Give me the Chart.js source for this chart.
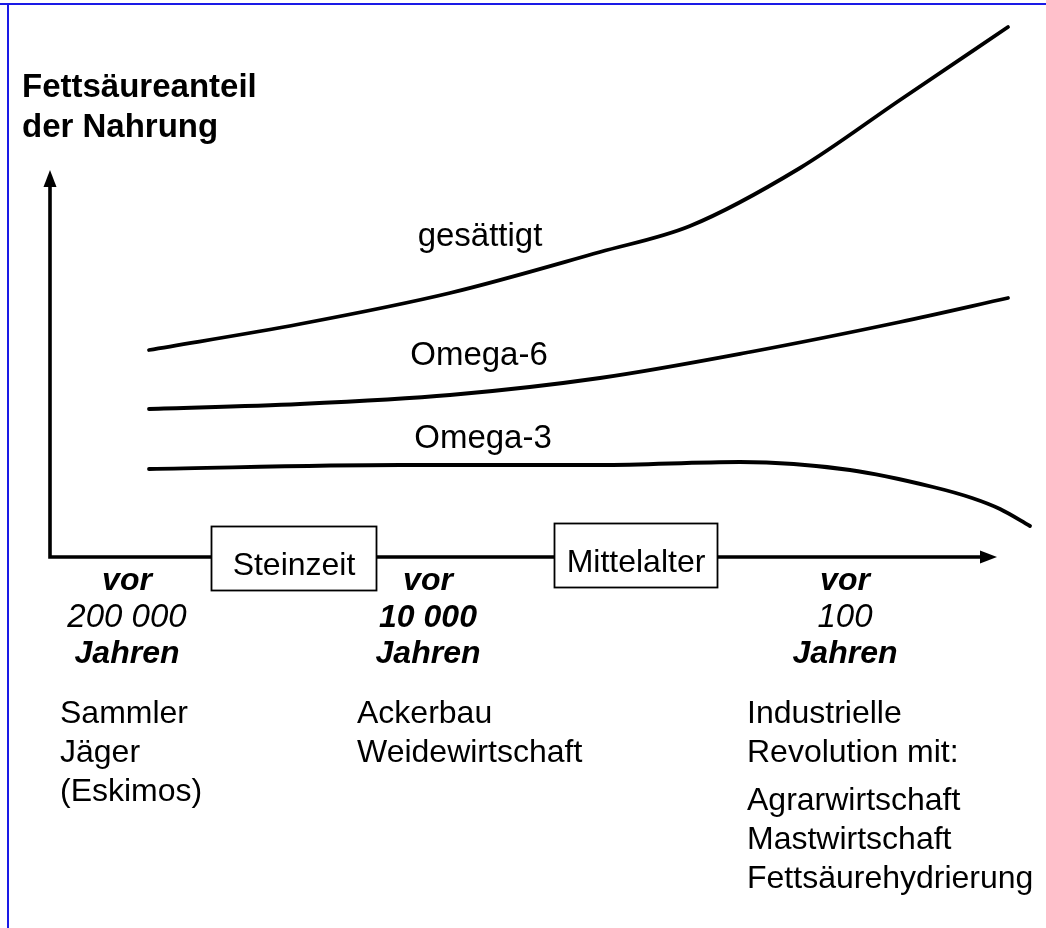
<!DOCTYPE html>
<html>
<head>
<meta charset="utf-8">
<title>Fettsäureanteil der Nahrung</title>
<script src="https://cdn.jsdelivr.net/npm/chart.js@4/dist/chart.umd.min.js"></script>
<style>
    html, body { margin: 0; padding: 0; background: #fff; }
    #chart { display: block; }
</style>
</head>
<body>
<canvas id="chart" width="1046" height="928"></canvas>
<script>
// Zeitachse (x) und Anteil (y) in frei gewählten Einheiten
const gesaettigtX = [9.9, 25.0, 40.0, 55.0, 64.0, 75.0, 85.0, 95.8];
const gesaettigtY = [41.4, 46.6, 52.8, 61.0, 66.2, 77.8, 91.4, 106.0];

const omega6X = [9.9, 25.0, 40.0, 55.0, 70.0, 85.0, 95.8];
const omega6Y = [29.6, 30.6, 32.4, 35.8, 41.0, 47.0, 51.8];

const omega3X = [9.9, 35.0, 55.0, 69.0, 80.0, 88.3, 92.2, 95.0, 98.0];
const omega3Y = [17.6, 18.4, 18.4, 19.0, 17.4, 14.0, 11.8, 9.6, 6.2];

const seriesNames = ['gesättigt', 'Omega-6', 'Omega-3'];

// Zeitpunkte unter der Achse
const eraX = [7.7, 37.8, 79.5];
const eraLabels = [
    ['vor', '200 000', 'Jahren'],
    ['vor', '10 000', 'Jahren'],
    ['vor', '100', 'Jahren'],
];
const periodX = [24.4, 58.6];
const periodLabels = ['Steinzeit', 'Mittelalter'];

const lifeLabels = [
    ['Sammler', 'Jäger', '(Eskimos)'],
    ['Ackerbau', 'Weidewirtschaft'],
    ['Industrielle', 'Revolution mit:', null, 'Agrarwirtschaft', 'Mastwirtschaft', 'Fettsäurehydrierung'],
];

const yTitle = ['Fettsäureanteil', 'der Nahrung'];

const FONT = '"Liberation Sans", Arial, Helvetica, sans-serif';

const toPoints = (xs, ys) => xs.map((x, i) => ({ x, y: ys[i] }));

const lineStyle = {
    borderColor: '#000',
    borderWidth: 3.8,
    pointRadius: 0,
    cubicInterpolationMode: 'monotone',
    borderCapStyle: 'round',
    borderJoinStyle: 'round',
    fill: false,
    clip: false,
};

function text(ctx, str, x, y, font, align) {
    ctx.font = font;
    ctx.textAlign = align || 'left';
    ctx.textBaseline = 'alphabetic';
    ctx.fillStyle = '#000';
    ctx.fillText(str, x, y);
}

function arrowHead(ctx, x, y, dir) {
    ctx.beginPath();
    if (dir === 'up') {
        ctx.moveTo(x, y);
        ctx.lineTo(x - 6.5, y + 17);
        ctx.lineTo(x + 6.5, y + 17);
    } else {
        ctx.moveTo(x, y);
        ctx.lineTo(x - 17, y - 6.5);
        ctx.lineTo(x - 17, y + 6.5);
    }
    ctx.closePath();
    ctx.fill();
}

// Achsen mit Pfeilen, Epochen-Kästen und alle Beschriftungen
const decorations = {
    id: 'decorations',
    beforeDraw(chart) {
        const ctx = chart.ctx;
        ctx.save();
        ctx.fillStyle = '#fff';
        ctx.fillRect(0, 0, chart.width, chart.height);
        // blauer Rahmen oben und links
        ctx.fillStyle = '#1a1ae6';
        ctx.fillRect(0, 3, chart.width, 2);
        ctx.fillRect(7, 3, 2, chart.height - 3);
        ctx.restore();
    },
    afterDatasetsDraw(chart) {
        const ctx = chart.ctx;
        const xs = chart.scales.x;
        const ys = chart.scales.y;
        const x0 = xs.getPixelForValue(0);
        const y0 = ys.getPixelForValue(0);
        const xEnd = xs.getPixelForValue(94.7);
        const yEnd = ys.getPixelForValue(77.4);

        ctx.save();
        ctx.strokeStyle = '#000';
        ctx.fillStyle = '#000';
        ctx.lineWidth = 3.6;
        ctx.lineCap = 'butt';
        ctx.lineJoin = 'miter';
        ctx.beginPath();
        ctx.moveTo(x0, yEnd + 10);
        ctx.lineTo(x0, y0);
        ctx.lineTo(xEnd - 10, y0);
        ctx.stroke();
        arrowHead(ctx, x0, yEnd, 'up');
        arrowHead(ctx, xEnd, y0, 'right');

        // Epochen als Kästen auf der Zeitachse
        const boxW = [165, 163];
        const boxDy = [1.5, -1.5];
        periodLabels.forEach((label, i) => {
            const cx = xs.getPixelForValue(periodX[i]);
            const cy = y0 + boxDy[i];
            const w = boxW[i], h = 64;
            ctx.fillStyle = '#fff';
            ctx.fillRect(cx - w / 2, cy - h / 2, w, h);
            ctx.lineWidth = 1.8;
            ctx.strokeStyle = '#000';
            ctx.strokeRect(cx - w / 2, cy - h / 2, w, h);
            text(ctx, label, cx, cy + 16.5, '32px ' + FONT, 'center');
        });

        // Zeitpunkte
        const eraDy = [33, 70, 106];
        eraLabels.forEach((lines, i) => {
            const cx = xs.getPixelForValue(eraX[i]);
            const weights = ['bold', i === 1 ? 'bold' : 'normal', 'bold'];
            lines.forEach((line, j) => {
                const size = weights[j] === 'bold' ? 32 : 33;
                text(ctx, line, cx, y0 + eraDy[j], 'italic ' + weights[j] + ' ' + size + 'px ' + FONT, 'center');
            });
        });

        // Lebensweise je Zeitpunkt
        const lifeLeft = [60, 357, 747];
        lifeLabels.forEach((lines, i) => {
            let y = 723;
            lines.forEach(line => {
                if (line === null) { y += 9; return; }
                text(ctx, line, lifeLeft[i], y, '32px ' + FONT);
                y += 39;
            });
        });

        // Kurvennamen
        const nameX = [43.0, 42.9, 43.3];
        const nameY = [62.2, 38.4, 21.8];
        seriesNames.forEach((name, i) => {
            text(ctx, name, xs.getPixelForValue(nameX[i]), ys.getPixelForValue(nameY[i]), '33px ' + FONT, 'center');
        });

        // y-Achsentitel
        yTitle.forEach((line, i) => {
            text(ctx, line, 22, 97 + i * 40, 'bold 33px ' + FONT);
        });
        ctx.restore();
    }
};

new Chart(document.getElementById('chart'), {
    type: 'line',
    data: {
        datasets: [
            { label: seriesNames[0], data: toPoints(gesaettigtX, gesaettigtY), ...lineStyle },
            { label: seriesNames[1], data: toPoints(omega6X, omega6Y), ...lineStyle },
            { label: seriesNames[2], data: toPoints(omega3X, omega3Y), ...lineStyle },
        ]
    },
    options: {
        responsive: false,
        animation: false,
        devicePixelRatio: 1,
        layout: { padding: { left: 50, right: 0, top: 7, bottom: 371 } },
        plugins: {
            legend: { display: false },
            tooltip: { enabled: false },
        },
        scales: {
            x: { type: 'linear', min: 0, max: 99.6, display: false },
            y: { type: 'linear', min: 0, max: 110, display: false },
        }
    },
    plugins: [decorations]
});
</script>
</body>
</html>
